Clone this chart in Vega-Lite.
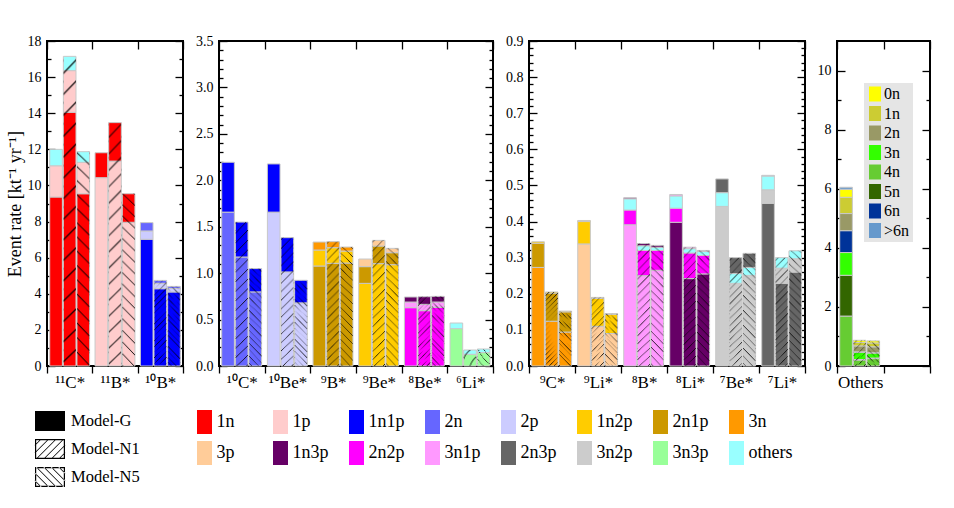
{
  "$schema": "https://vega.github.io/schema/vega-lite/v6.json",
  "padding": {"left": 5, "top": 33, "right": 5, "bottom": 5},
  "background": "white",
  "datasets": {
    "rates": [
      {"p": 1, "nuc": "¹¹C*", "model": "G", "ch": "1n", "value": 9.36},
      {"p": 1, "nuc": "¹¹C*", "model": "G", "ch": "1p", "value": 1.73},
      {"p": 1, "nuc": "¹¹C*", "model": "G", "ch": "others", "value": 0.91},
      {"p": 1, "nuc": "¹¹C*", "model": "N1", "ch": "1n", "value": 14.05},
      {"p": 1, "nuc": "¹¹C*", "model": "N1", "ch": "1p", "value": 2.31},
      {"p": 1, "nuc": "¹¹C*", "model": "N1", "ch": "others", "value": 0.79},
      {"p": 1, "nuc": "¹¹C*", "model": "N5", "ch": "1n", "value": 9.54},
      {"p": 1, "nuc": "¹¹C*", "model": "N5", "ch": "1p", "value": 1.74},
      {"p": 1, "nuc": "¹¹C*", "model": "N5", "ch": "others", "value": 0.59},
      {"p": 1, "nuc": "¹¹B*", "model": "G", "ch": "1p", "value": 10.43},
      {"p": 1, "nuc": "¹¹B*", "model": "G", "ch": "1n", "value": 1.38},
      {"p": 1, "nuc": "¹¹B*", "model": "N1", "ch": "1p", "value": 11.35},
      {"p": 1, "nuc": "¹¹B*", "model": "N1", "ch": "1n", "value": 2.13},
      {"p": 1, "nuc": "¹¹B*", "model": "N5", "ch": "1p", "value": 7.96},
      {"p": 1, "nuc": "¹¹B*", "model": "N5", "ch": "1n", "value": 1.58},
      {"p": 1, "nuc": "¹⁰B*", "model": "G", "ch": "1n1p", "value": 7.02},
      {"p": 1, "nuc": "¹⁰B*", "model": "G", "ch": "2p", "value": 0.46},
      {"p": 1, "nuc": "¹⁰B*", "model": "G", "ch": "2n", "value": 0.46},
      {"p": 1, "nuc": "¹⁰B*", "model": "N1", "ch": "1n1p", "value": 4.28},
      {"p": 1, "nuc": "¹⁰B*", "model": "N1", "ch": "2p", "value": 0.3},
      {"p": 1, "nuc": "¹⁰B*", "model": "N1", "ch": "2n", "value": 0.16},
      {"p": 1, "nuc": "¹⁰B*", "model": "N5", "ch": "1n1p", "value": 4.1},
      {"p": 1, "nuc": "¹⁰B*", "model": "N5", "ch": "2p", "value": 0.2},
      {"p": 1, "nuc": "¹⁰B*", "model": "N5", "ch": "2n", "value": 0.11},

      {"p": 2, "nuc": "¹⁰C*", "model": "G", "ch": "2n", "value": 1.657},
      {"p": 2, "nuc": "¹⁰C*", "model": "G", "ch": "1n1p", "value": 0.537},
      {"p": 2, "nuc": "¹⁰C*", "model": "N1", "ch": "2n", "value": 1.174},
      {"p": 2, "nuc": "¹⁰C*", "model": "N1", "ch": "1n1p", "value": 0.376},
      {"p": 2, "nuc": "¹⁰C*", "model": "N5", "ch": "2n", "value": 0.798},
      {"p": 2, "nuc": "¹⁰C*", "model": "N5", "ch": "1n1p", "value": 0.251},
      {"p": 2, "nuc": "¹⁰Be*", "model": "G", "ch": "2p", "value": 1.657},
      {"p": 2, "nuc": "¹⁰Be*", "model": "G", "ch": "1n1p", "value": 0.519},
      {"p": 2, "nuc": "¹⁰Be*", "model": "N1", "ch": "2p", "value": 1.013},
      {"p": 2, "nuc": "¹⁰Be*", "model": "N1", "ch": "1n1p", "value": 0.369},
      {"p": 2, "nuc": "¹⁰Be*", "model": "N5", "ch": "2p", "value": 0.68},
      {"p": 2, "nuc": "¹⁰Be*", "model": "N5", "ch": "1n1p", "value": 0.243},
      {"p": 2, "nuc": "⁹B*", "model": "G", "ch": "2n1p", "value": 1.077},
      {"p": 2, "nuc": "⁹B*", "model": "G", "ch": "1n2p", "value": 0.172},
      {"p": 2, "nuc": "⁹B*", "model": "G", "ch": "3n", "value": 0.086},
      {"p": 2, "nuc": "⁹B*", "model": "N1", "ch": "2n1p", "value": 1.106},
      {"p": 2, "nuc": "⁹B*", "model": "N1", "ch": "1n2p", "value": 0.168},
      {"p": 2, "nuc": "⁹B*", "model": "N1", "ch": "3n", "value": 0.065},
      {"p": 2, "nuc": "⁹B*", "model": "N5", "ch": "2n1p", "value": 1.109},
      {"p": 2, "nuc": "⁹B*", "model": "N5", "ch": "1n2p", "value": 0.129},
      {"p": 2, "nuc": "⁹B*", "model": "N5", "ch": "3n", "value": 0.043},
      {"p": 2, "nuc": "⁹Be*", "model": "G", "ch": "1n2p", "value": 0.89},
      {"p": 2, "nuc": "⁹Be*", "model": "G", "ch": "2n1p", "value": 0.18},
      {"p": 2, "nuc": "⁹Be*", "model": "G", "ch": "3p", "value": 0.082},
      {"p": 2, "nuc": "⁹Be*", "model": "N1", "ch": "1n2p", "value": 1.102},
      {"p": 2, "nuc": "⁹Be*", "model": "N1", "ch": "2n1p", "value": 0.19},
      {"p": 2, "nuc": "⁹Be*", "model": "N1", "ch": "3p", "value": 0.061},
      {"p": 2, "nuc": "⁹Be*", "model": "N5", "ch": "1n2p", "value": 1.091},
      {"p": 2, "nuc": "⁹Be*", "model": "N5", "ch": "2n1p", "value": 0.129},
      {"p": 2, "nuc": "⁹Be*", "model": "N5", "ch": "3p", "value": 0.047},
      {"p": 2, "nuc": "⁸Be*", "model": "G", "ch": "2n2p", "value": 0.628},
      {"p": 2, "nuc": "⁸Be*", "model": "G", "ch": "3n1p", "value": 0.061},
      {"p": 2, "nuc": "⁸Be*", "model": "G", "ch": "1n3p", "value": 0.054},
      {"p": 2, "nuc": "⁸Be*", "model": "N1", "ch": "2n2p", "value": 0.596},
      {"p": 2, "nuc": "⁸Be*", "model": "N1", "ch": "3n1p", "value": 0.068},
      {"p": 2, "nuc": "⁸Be*", "model": "N1", "ch": "1n3p", "value": 0.082},
      {"p": 2, "nuc": "⁸Be*", "model": "N5", "ch": "2n2p", "value": 0.632},
      {"p": 2, "nuc": "⁸Be*", "model": "N5", "ch": "3n1p", "value": 0.057},
      {"p": 2, "nuc": "⁸Be*", "model": "N5", "ch": "1n3p", "value": 0.061},
      {"p": 2, "nuc": "⁶Li*", "model": "G", "ch": "3n3p", "value": 0.402},
      {"p": 2, "nuc": "⁶Li*", "model": "G", "ch": "others", "value": 0.061},
      {"p": 2, "nuc": "⁶Li*", "model": "N1", "ch": "3n3p", "value": 0.126},
      {"p": 2, "nuc": "⁶Li*", "model": "N1", "ch": "others", "value": 0.046},
      {"p": 2, "nuc": "⁶Li*", "model": "N5", "ch": "3n3p", "value": 0.144},
      {"p": 2, "nuc": "⁶Li*", "model": "N5", "ch": "others", "value": 0.039},

      {"p": 3, "nuc": "⁹C*", "model": "G", "ch": "3n", "value": 0.273},
      {"p": 3, "nuc": "⁹C*", "model": "G", "ch": "2n1p", "value": 0.067},
      {"p": 3, "nuc": "⁹C*", "model": "G", "ch": "1n2p", "value": 0.004},
      {"p": 3, "nuc": "⁹C*", "model": "N1", "ch": "3n", "value": 0.124},
      {"p": 3, "nuc": "⁹C*", "model": "N1", "ch": "2n1p", "value": 0.078},
      {"p": 3, "nuc": "⁹C*", "model": "N1", "ch": "1n2p", "value": 0.003},
      {"p": 3, "nuc": "⁹C*", "model": "N5", "ch": "3n", "value": 0.094},
      {"p": 3, "nuc": "⁹C*", "model": "N5", "ch": "2n1p", "value": 0.056},
      {"p": 3, "nuc": "⁹C*", "model": "N5", "ch": "1n2p", "value": 0.002},
      {"p": 3, "nuc": "⁹Li*", "model": "G", "ch": "3p", "value": 0.338},
      {"p": 3, "nuc": "⁹Li*", "model": "G", "ch": "1n2p", "value": 0.062},
      {"p": 3, "nuc": "⁹Li*", "model": "G", "ch": "2n1p", "value": 0.003},
      {"p": 3, "nuc": "⁹Li*", "model": "N1", "ch": "3p", "value": 0.11},
      {"p": 3, "nuc": "⁹Li*", "model": "N1", "ch": "1n2p", "value": 0.077},
      {"p": 3, "nuc": "⁹Li*", "model": "N1", "ch": "2n1p", "value": 0.003},
      {"p": 3, "nuc": "⁹Li*", "model": "N5", "ch": "3p", "value": 0.09},
      {"p": 3, "nuc": "⁹Li*", "model": "N5", "ch": "1n2p", "value": 0.053},
      {"p": 3, "nuc": "⁹Li*", "model": "N5", "ch": "2n1p", "value": 0.002},
      {"p": 3, "nuc": "⁸B*", "model": "G", "ch": "3n1p", "value": 0.391},
      {"p": 3, "nuc": "⁸B*", "model": "G", "ch": "2n2p", "value": 0.041},
      {"p": 3, "nuc": "⁸B*", "model": "G", "ch": "others", "value": 0.031},
      {"p": 3, "nuc": "⁸B*", "model": "G", "ch": "1n3p", "value": 0.003},
      {"p": 3, "nuc": "⁸B*", "model": "N1", "ch": "3n1p", "value": 0.25},
      {"p": 3, "nuc": "⁸B*", "model": "N1", "ch": "2n2p", "value": 0.07},
      {"p": 3, "nuc": "⁸B*", "model": "N1", "ch": "others", "value": 0.013},
      {"p": 3, "nuc": "⁸B*", "model": "N1", "ch": "1n3p", "value": 0.006},
      {"p": 3, "nuc": "⁸B*", "model": "N5", "ch": "3n1p", "value": 0.265},
      {"p": 3, "nuc": "⁸B*", "model": "N5", "ch": "2n2p", "value": 0.055},
      {"p": 3, "nuc": "⁸B*", "model": "N5", "ch": "others", "value": 0.009},
      {"p": 3, "nuc": "⁸B*", "model": "N5", "ch": "1n3p", "value": 0.005},
      {"p": 3, "nuc": "⁸Li*", "model": "G", "ch": "1n3p", "value": 0.398},
      {"p": 3, "nuc": "⁸Li*", "model": "G", "ch": "2n2p", "value": 0.039},
      {"p": 3, "nuc": "⁸Li*", "model": "G", "ch": "others", "value": 0.034},
      {"p": 3, "nuc": "⁸Li*", "model": "G", "ch": "3n1p", "value": 0.004},
      {"p": 3, "nuc": "⁸Li*", "model": "N1", "ch": "1n3p", "value": 0.242},
      {"p": 3, "nuc": "⁸Li*", "model": "N1", "ch": "2n2p", "value": 0.071},
      {"p": 3, "nuc": "⁸Li*", "model": "N1", "ch": "others", "value": 0.012},
      {"p": 3, "nuc": "⁸Li*", "model": "N1", "ch": "3n1p", "value": 0.004},
      {"p": 3, "nuc": "⁸Li*", "model": "N5", "ch": "1n3p", "value": 0.255},
      {"p": 3, "nuc": "⁸Li*", "model": "N5", "ch": "2n2p", "value": 0.051},
      {"p": 3, "nuc": "⁸Li*", "model": "N5", "ch": "others", "value": 0.011},
      {"p": 3, "nuc": "⁸Li*", "model": "N5", "ch": "3n1p", "value": 0.003},
      {"p": 3, "nuc": "⁷Be*", "model": "G", "ch": "3n2p", "value": 0.442},
      {"p": 3, "nuc": "⁷Be*", "model": "G", "ch": "others", "value": 0.038},
      {"p": 3, "nuc": "⁷Be*", "model": "G", "ch": "2n3p", "value": 0.038},
      {"p": 3, "nuc": "⁷Be*", "model": "N1", "ch": "3n2p", "value": 0.229},
      {"p": 3, "nuc": "⁷Be*", "model": "N1", "ch": "others", "value": 0.027},
      {"p": 3, "nuc": "⁷Be*", "model": "N1", "ch": "2n3p", "value": 0.044},
      {"p": 3, "nuc": "⁷Be*", "model": "N5", "ch": "3n2p", "value": 0.251},
      {"p": 3, "nuc": "⁷Be*", "model": "N5", "ch": "others", "value": 0.022},
      {"p": 3, "nuc": "⁷Be*", "model": "N5", "ch": "2n3p", "value": 0.039},
      {"p": 3, "nuc": "⁷Li*", "model": "G", "ch": "2n3p", "value": 0.45},
      {"p": 3, "nuc": "⁷Li*", "model": "G", "ch": "3n2p", "value": 0.038},
      {"p": 3, "nuc": "⁷Li*", "model": "G", "ch": "others", "value": 0.038},
      {"p": 3, "nuc": "⁷Li*", "model": "G", "ch": "2p", "value": 0.002},
      {"p": 3, "nuc": "⁷Li*", "model": "N1", "ch": "2n3p", "value": 0.229},
      {"p": 3, "nuc": "⁷Li*", "model": "N1", "ch": "3n2p", "value": 0.042},
      {"p": 3, "nuc": "⁷Li*", "model": "N1", "ch": "others", "value": 0.029},
      {"p": 3, "nuc": "⁷Li*", "model": "N5", "ch": "2n3p", "value": 0.26},
      {"p": 3, "nuc": "⁷Li*", "model": "N5", "ch": "3n2p", "value": 0.037},
      {"p": 3, "nuc": "⁷Li*", "model": "N5", "ch": "others", "value": 0.022},

      {"p": 4, "nuc": "Others", "model": "G", "ch": "4n", "value": 1.69},
      {"p": 4, "nuc": "Others", "model": "G", "ch": "5n", "value": 1.38},
      {"p": 4, "nuc": "Others", "model": "G", "ch": "3n", "value": 0.77},
      {"p": 4, "nuc": "Others", "model": "G", "ch": "6n", "value": 0.74},
      {"p": 4, "nuc": "Others", "model": "G", "ch": "2n", "value": 0.58},
      {"p": 4, "nuc": "Others", "model": "G", "ch": "1n", "value": 0.55},
      {"p": 4, "nuc": "Others", "model": "G", "ch": "0n", "value": 0.27},
      {"p": 4, "nuc": "Others", "model": "G", "ch": ">6n", "value": 0.07},
      {"p": 4, "nuc": "Others", "model": "N1", "ch": "4n", "value": 0.2},
      {"p": 4, "nuc": "Others", "model": "N1", "ch": "5n", "value": 0.02},
      {"p": 4, "nuc": "Others", "model": "N1", "ch": "3n", "value": 0.25},
      {"p": 4, "nuc": "Others", "model": "N1", "ch": "6n", "value": 0.01},
      {"p": 4, "nuc": "Others", "model": "N1", "ch": "2n", "value": 0.2},
      {"p": 4, "nuc": "Others", "model": "N1", "ch": "1n", "value": 0.12},
      {"p": 4, "nuc": "Others", "model": "N1", "ch": "0n", "value": 0.07},
      {"p": 4, "nuc": "Others", "model": "N5", "ch": "4n", "value": 0.25},
      {"p": 4, "nuc": "Others", "model": "N5", "ch": "5n", "value": 0.02},
      {"p": 4, "nuc": "Others", "model": "N5", "ch": "3n", "value": 0.17},
      {"p": 4, "nuc": "Others", "model": "N5", "ch": "6n", "value": 0.01},
      {"p": 4, "nuc": "Others", "model": "N5", "ch": "2n", "value": 0.2},
      {"p": 4, "nuc": "Others", "model": "N5", "ch": "1n", "value": 0.13},
      {"p": 4, "nuc": "Others", "model": "N5", "ch": "0n", "value": 0.07}
    ]
  },
  "data": {"name": "rates"},
  "spacing": 9,
  "hconcat": [
    {
      "width": 136,
      "height": 325,
      "transform": [{"window": [{"op": "row_number", "as": "k"}]}, {"filter": "datum.p == 1"}],
      "layer": [
        {
          "mark": {"type": "bar", "stroke": "#c8c8c8", "strokeWidth": 1},
          "encoding": {
            "x": {"field": "nuc", "type": "nominal", "sort": null, "scale": {"domain": ["¹¹C*", "¹¹B*", "¹⁰B*"], "paddingInner": 0, "paddingOuter": 0}, "axis": {"orient": "bottom", "title": null, "tickBand": "extent", "tickSize": 7, "labelAngle": 0, "labelFontSize": 17, "labelPadding": 1}},
            "xOffset": {"field": "model", "scale": {"domain": ["G", "N1", "N5"], "paddingInner": 0.072, "paddingOuter": 0.2}},
            "y": {"field": "value", "type": "quantitative", "scale": {"domain": [0, 18], "nice": false}, "axis": {"orient": "left", "title": "Event rate [kt⁻¹ yr⁻¹]", "titlePadding": 3, "values": [0, 2, 4, 6, 8, 10, 12, 14, 16, 18], "tickSize": -8, "labelPadding": 14}},
            "fill": {
              "field": "ch", "type": "nominal",
              "scale": {
                "domain": ["1n", "1p", "1n1p", "2n", "2p", "1n2p", "2n1p", "3n", "3p", "1n3p", "2n2p", "3n1p", "2n3p", "3n2p", "3n3p", "others"],
                "range": ["#ff0000", "#ffcccc", "#0000ff", "#6666ff", "#ccccff", "#ffcc00", "#cc9900", "#ff9900", "#ffcc99", "#660066", "#ff00ff", "#ff99ff", "#666666", "#cccccc", "#99ff99", "#99ffff"]
              },
              "legend": {"orient": "none", "legendX": 145.5, "legendY": 369, "direction": "horizontal", "columns": 8, "gridAlign": "all", "columnPadding": 8, "rowPadding": 7, "symbolType": "M-0.625,-1H0.625V1H-0.625Z", "symbolSize": 576, "symbolStrokeWidth": 0, "symbolOpacity": 1, "labelFontSize": 18, "labelOffset": 0, "title": null, "padding": 0}
            },
            "order": {"field": "k", "type": "quantitative"}
          }
        },
        {
          "transform": [{"filter": "datum.model == 'N1'"}],
          "mark": {"type": "bar", "fill": {"gradient": "radial", "x1": -9, "y1": -9, "r1": 0, "x2": -9, "y2": -9, "r2": 14.1421, "stops": [
            {"offset": 0.9, "color": "rgba(0,0,0,0)"}, {"offset": 0.9003, "color": "rgba(0,0,0,0.9)"}, {"offset": 0.9006, "color": "rgba(0,0,0,0)"},
            {"offset": 0.90333, "color": "rgba(0,0,0,0)"}, {"offset": 0.90363, "color": "rgba(0,0,0,0.9)"}, {"offset": 0.90393, "color": "rgba(0,0,0,0)"},
            {"offset": 0.90667, "color": "rgba(0,0,0,0)"}, {"offset": 0.90697, "color": "rgba(0,0,0,0.9)"}, {"offset": 0.90727, "color": "rgba(0,0,0,0)"},
            {"offset": 0.91, "color": "rgba(0,0,0,0)"}, {"offset": 0.9103, "color": "rgba(0,0,0,0.9)"}, {"offset": 0.9106, "color": "rgba(0,0,0,0)"},
            {"offset": 0.91333, "color": "rgba(0,0,0,0)"}, {"offset": 0.91363, "color": "rgba(0,0,0,0.9)"}, {"offset": 0.91393, "color": "rgba(0,0,0,0)"},
            {"offset": 0.91667, "color": "rgba(0,0,0,0)"}, {"offset": 0.91697, "color": "rgba(0,0,0,0.9)"}, {"offset": 0.91727, "color": "rgba(0,0,0,0)"},
            {"offset": 0.92, "color": "rgba(0,0,0,0)"}, {"offset": 0.9203, "color": "rgba(0,0,0,0.9)"}, {"offset": 0.9206, "color": "rgba(0,0,0,0)"},
            {"offset": 0.92333, "color": "rgba(0,0,0,0)"}, {"offset": 0.92363, "color": "rgba(0,0,0,0.9)"}, {"offset": 0.92393, "color": "rgba(0,0,0,0)"},
            {"offset": 0.92667, "color": "rgba(0,0,0,0)"}, {"offset": 0.92697, "color": "rgba(0,0,0,0.9)"}, {"offset": 0.92727, "color": "rgba(0,0,0,0)"},
            {"offset": 0.93, "color": "rgba(0,0,0,0)"}, {"offset": 0.9303, "color": "rgba(0,0,0,0.9)"}, {"offset": 0.9306, "color": "rgba(0,0,0,0)"},
            {"offset": 0.93333, "color": "rgba(0,0,0,0)"}, {"offset": 0.93363, "color": "rgba(0,0,0,0.9)"}, {"offset": 0.93393, "color": "rgba(0,0,0,0)"},
            {"offset": 0.93667, "color": "rgba(0,0,0,0)"}, {"offset": 0.93697, "color": "rgba(0,0,0,0.9)"}, {"offset": 0.93727, "color": "rgba(0,0,0,0)"},
            {"offset": 0.94, "color": "rgba(0,0,0,0)"}, {"offset": 0.9403, "color": "rgba(0,0,0,0.9)"}, {"offset": 0.9406, "color": "rgba(0,0,0,0)"},
            {"offset": 0.94333, "color": "rgba(0,0,0,0)"}, {"offset": 0.94363, "color": "rgba(0,0,0,0.9)"}, {"offset": 0.94393, "color": "rgba(0,0,0,0)"},
            {"offset": 0.94667, "color": "rgba(0,0,0,0)"}, {"offset": 0.94697, "color": "rgba(0,0,0,0.9)"}, {"offset": 0.94727, "color": "rgba(0,0,0,0)"},
            {"offset": 0.95, "color": "rgba(0,0,0,0)"}, {"offset": 0.9503, "color": "rgba(0,0,0,0.9)"}, {"offset": 0.9506, "color": "rgba(0,0,0,0)"},
            {"offset": 0.95333, "color": "rgba(0,0,0,0)"}, {"offset": 0.95363, "color": "rgba(0,0,0,0.9)"}, {"offset": 0.95393, "color": "rgba(0,0,0,0)"},
            {"offset": 0.95667, "color": "rgba(0,0,0,0)"}, {"offset": 0.95697, "color": "rgba(0,0,0,0.9)"}, {"offset": 0.95727, "color": "rgba(0,0,0,0)"},
            {"offset": 0.96, "color": "rgba(0,0,0,0)"}, {"offset": 0.9603, "color": "rgba(0,0,0,0.9)"}, {"offset": 0.9606, "color": "rgba(0,0,0,0)"},
            {"offset": 0.96333, "color": "rgba(0,0,0,0)"}, {"offset": 0.96363, "color": "rgba(0,0,0,0.9)"}, {"offset": 0.96393, "color": "rgba(0,0,0,0)"},
            {"offset": 0.96667, "color": "rgba(0,0,0,0)"}, {"offset": 0.96697, "color": "rgba(0,0,0,0.9)"}, {"offset": 0.96727, "color": "rgba(0,0,0,0)"},
            {"offset": 0.97, "color": "rgba(0,0,0,0)"}, {"offset": 0.9703, "color": "rgba(0,0,0,0.9)"}, {"offset": 0.9706, "color": "rgba(0,0,0,0)"},
            {"offset": 0.97333, "color": "rgba(0,0,0,0)"}, {"offset": 0.97363, "color": "rgba(0,0,0,0.9)"}, {"offset": 0.97393, "color": "rgba(0,0,0,0)"},
            {"offset": 0.97667, "color": "rgba(0,0,0,0)"}, {"offset": 0.97697, "color": "rgba(0,0,0,0.9)"}, {"offset": 0.97727, "color": "rgba(0,0,0,0)"},
            {"offset": 0.98, "color": "rgba(0,0,0,0)"}, {"offset": 0.9803, "color": "rgba(0,0,0,0.9)"}, {"offset": 0.9806, "color": "rgba(0,0,0,0)"},
            {"offset": 0.98333, "color": "rgba(0,0,0,0)"}, {"offset": 0.98363, "color": "rgba(0,0,0,0.9)"}, {"offset": 0.98393, "color": "rgba(0,0,0,0)"},
            {"offset": 0.98667, "color": "rgba(0,0,0,0)"}, {"offset": 0.98697, "color": "rgba(0,0,0,0.9)"}, {"offset": 0.98727, "color": "rgba(0,0,0,0)"},
            {"offset": 0.99, "color": "rgba(0,0,0,0)"}, {"offset": 0.9903, "color": "rgba(0,0,0,0.9)"}, {"offset": 0.9906, "color": "rgba(0,0,0,0)"},
            {"offset": 0.99333, "color": "rgba(0,0,0,0)"}, {"offset": 0.99363, "color": "rgba(0,0,0,0.9)"}, {"offset": 0.99393, "color": "rgba(0,0,0,0)"},
            {"offset": 0.99667, "color": "rgba(0,0,0,0)"}, {"offset": 0.99697, "color": "rgba(0,0,0,0.9)"}, {"offset": 0.99727, "color": "rgba(0,0,0,0)"}
          ]}},
          "encoding": {
            "x": {"field": "nuc", "type": "nominal", "sort": null, "axis": {"orient": "top", "title": null, "tickBand": "extent", "tickSize": -8, "labels": false}},
            "xOffset": {"field": "model"},
            "y": {"aggregate": "sum", "field": "value", "type": "quantitative", "axis": {"orient": "right", "title": null, "values": [0, 2, 4, 6, 8, 10, 12, 14, 16, 18], "tickSize": -8, "labels": false}}
          }
        },
        {
          "transform": [{"filter": "datum.model == 'N5'"}],
          "mark": {"type": "bar", "fill": {"gradient": "radial", "x1": -9, "y1": 10, "r1": 0, "x2": -9, "y2": 10, "r2": 14.1421, "stops": [
            {"offset": 0.9, "color": "rgba(0,0,0,0)"}, {"offset": 0.9003, "color": "rgba(0,0,0,0.9)"}, {"offset": 0.9006, "color": "rgba(0,0,0,0)"},
            {"offset": 0.90333, "color": "rgba(0,0,0,0)"}, {"offset": 0.90363, "color": "rgba(0,0,0,0.9)"}, {"offset": 0.90393, "color": "rgba(0,0,0,0)"},
            {"offset": 0.90667, "color": "rgba(0,0,0,0)"}, {"offset": 0.90697, "color": "rgba(0,0,0,0.9)"}, {"offset": 0.90727, "color": "rgba(0,0,0,0)"},
            {"offset": 0.91, "color": "rgba(0,0,0,0)"}, {"offset": 0.9103, "color": "rgba(0,0,0,0.9)"}, {"offset": 0.9106, "color": "rgba(0,0,0,0)"},
            {"offset": 0.91333, "color": "rgba(0,0,0,0)"}, {"offset": 0.91363, "color": "rgba(0,0,0,0.9)"}, {"offset": 0.91393, "color": "rgba(0,0,0,0)"},
            {"offset": 0.91667, "color": "rgba(0,0,0,0)"}, {"offset": 0.91697, "color": "rgba(0,0,0,0.9)"}, {"offset": 0.91727, "color": "rgba(0,0,0,0)"},
            {"offset": 0.92, "color": "rgba(0,0,0,0)"}, {"offset": 0.9203, "color": "rgba(0,0,0,0.9)"}, {"offset": 0.9206, "color": "rgba(0,0,0,0)"},
            {"offset": 0.92333, "color": "rgba(0,0,0,0)"}, {"offset": 0.92363, "color": "rgba(0,0,0,0.9)"}, {"offset": 0.92393, "color": "rgba(0,0,0,0)"},
            {"offset": 0.92667, "color": "rgba(0,0,0,0)"}, {"offset": 0.92697, "color": "rgba(0,0,0,0.9)"}, {"offset": 0.92727, "color": "rgba(0,0,0,0)"},
            {"offset": 0.93, "color": "rgba(0,0,0,0)"}, {"offset": 0.9303, "color": "rgba(0,0,0,0.9)"}, {"offset": 0.9306, "color": "rgba(0,0,0,0)"},
            {"offset": 0.93333, "color": "rgba(0,0,0,0)"}, {"offset": 0.93363, "color": "rgba(0,0,0,0.9)"}, {"offset": 0.93393, "color": "rgba(0,0,0,0)"},
            {"offset": 0.93667, "color": "rgba(0,0,0,0)"}, {"offset": 0.93697, "color": "rgba(0,0,0,0.9)"}, {"offset": 0.93727, "color": "rgba(0,0,0,0)"},
            {"offset": 0.94, "color": "rgba(0,0,0,0)"}, {"offset": 0.9403, "color": "rgba(0,0,0,0.9)"}, {"offset": 0.9406, "color": "rgba(0,0,0,0)"},
            {"offset": 0.94333, "color": "rgba(0,0,0,0)"}, {"offset": 0.94363, "color": "rgba(0,0,0,0.9)"}, {"offset": 0.94393, "color": "rgba(0,0,0,0)"},
            {"offset": 0.94667, "color": "rgba(0,0,0,0)"}, {"offset": 0.94697, "color": "rgba(0,0,0,0.9)"}, {"offset": 0.94727, "color": "rgba(0,0,0,0)"},
            {"offset": 0.95, "color": "rgba(0,0,0,0)"}, {"offset": 0.9503, "color": "rgba(0,0,0,0.9)"}, {"offset": 0.9506, "color": "rgba(0,0,0,0)"},
            {"offset": 0.95333, "color": "rgba(0,0,0,0)"}, {"offset": 0.95363, "color": "rgba(0,0,0,0.9)"}, {"offset": 0.95393, "color": "rgba(0,0,0,0)"},
            {"offset": 0.95667, "color": "rgba(0,0,0,0)"}, {"offset": 0.95697, "color": "rgba(0,0,0,0.9)"}, {"offset": 0.95727, "color": "rgba(0,0,0,0)"},
            {"offset": 0.96, "color": "rgba(0,0,0,0)"}, {"offset": 0.9603, "color": "rgba(0,0,0,0.9)"}, {"offset": 0.9606, "color": "rgba(0,0,0,0)"},
            {"offset": 0.96333, "color": "rgba(0,0,0,0)"}, {"offset": 0.96363, "color": "rgba(0,0,0,0.9)"}, {"offset": 0.96393, "color": "rgba(0,0,0,0)"},
            {"offset": 0.96667, "color": "rgba(0,0,0,0)"}, {"offset": 0.96697, "color": "rgba(0,0,0,0.9)"}, {"offset": 0.96727, "color": "rgba(0,0,0,0)"},
            {"offset": 0.97, "color": "rgba(0,0,0,0)"}, {"offset": 0.9703, "color": "rgba(0,0,0,0.9)"}, {"offset": 0.9706, "color": "rgba(0,0,0,0)"},
            {"offset": 0.97333, "color": "rgba(0,0,0,0)"}, {"offset": 0.97363, "color": "rgba(0,0,0,0.9)"}, {"offset": 0.97393, "color": "rgba(0,0,0,0)"},
            {"offset": 0.97667, "color": "rgba(0,0,0,0)"}, {"offset": 0.97697, "color": "rgba(0,0,0,0.9)"}, {"offset": 0.97727, "color": "rgba(0,0,0,0)"},
            {"offset": 0.98, "color": "rgba(0,0,0,0)"}, {"offset": 0.9803, "color": "rgba(0,0,0,0.9)"}, {"offset": 0.9806, "color": "rgba(0,0,0,0)"},
            {"offset": 0.98333, "color": "rgba(0,0,0,0)"}, {"offset": 0.98363, "color": "rgba(0,0,0,0.9)"}, {"offset": 0.98393, "color": "rgba(0,0,0,0)"},
            {"offset": 0.98667, "color": "rgba(0,0,0,0)"}, {"offset": 0.98697, "color": "rgba(0,0,0,0.9)"}, {"offset": 0.98727, "color": "rgba(0,0,0,0)"},
            {"offset": 0.99, "color": "rgba(0,0,0,0)"}, {"offset": 0.9903, "color": "rgba(0,0,0,0.9)"}, {"offset": 0.9906, "color": "rgba(0,0,0,0)"},
            {"offset": 0.99333, "color": "rgba(0,0,0,0)"}, {"offset": 0.99363, "color": "rgba(0,0,0,0.9)"}, {"offset": 0.99393, "color": "rgba(0,0,0,0)"},
            {"offset": 0.99667, "color": "rgba(0,0,0,0)"}, {"offset": 0.99697, "color": "rgba(0,0,0,0.9)"}, {"offset": 0.99727, "color": "rgba(0,0,0,0)"}
          ]}},
          "encoding": {
            "x": {"field": "nuc", "type": "nominal", "sort": null, "axis": null},
            "xOffset": {"field": "model"},
            "y": {"aggregate": "sum", "field": "value", "type": "quantitative", "axis": {"orient": "left", "title": null, "values": [1, 3, 5, 7, 9, 11, 13, 15, 17], "tickSize": -4, "labels": false}}
          }
        },
        {
          "mark": {"type": "point", "filled": true, "opacity": 0, "fill": "#000000"},
          "encoding": {
            "x": {"field": "nuc", "type": "nominal", "sort": null, "axis": null},
            "xOffset": {"field": "model"},
            "y": {"aggregate": "sum", "field": "value", "type": "quantitative", "axis": {"orient": "right", "title": null, "values": [1, 3, 5, 7, 9, 11, 13, 15, 17], "tickSize": -4, "labels": false}},
            "shape": {
              "field": "model", "type": "nominal",
              "scale": {
                "domain": ["G", "N1", "N5"],
                "range": [
                  "M-1.25,-0.833H1.25V0.833H-1.25Z",
                  "M-1.25,-0.833H1.25V0.833H-1.25Z M-1.15,-0.734V0.734H1.15V-0.734Z M-1.294,-0.313L-0.773,-0.833L-0.685,-0.833L-1.206,-0.313Z M-1.294,0.313L-0.148,-0.833L-0.06,-0.833L-1.206,0.313Z M-1.19,0.833L0.478,-0.833L0.565,-0.833L-1.103,0.833Z M-0.565,0.833L1.103,-0.833L1.19,-0.833L-0.478,0.833Z M0.06,0.833L1.206,-0.313L1.294,-0.313L0.148,0.833Z M0.685,0.833L1.206,0.313L1.294,0.313L0.773,0.833Z",
                  "M-1.25,-0.833H1.25V0.833H-1.25Z M-1.15,-0.734V0.734H1.15V-0.734Z M1.294,-0.313L0.773,-0.833L0.685,-0.833L1.206,-0.313Z M1.294,0.313L0.148,-0.833L0.06,-0.833L1.206,0.313Z M1.19,0.833L-0.478,-0.833L-0.565,-0.833L1.103,0.833Z M0.565,0.833L-1.103,-0.833L-1.19,-0.833L0.478,0.833Z M-0.06,0.833L-1.206,-0.313L-1.294,-0.313L-0.148,0.833Z M-0.685,0.833L-1.206,0.313L-1.294,0.313L-0.773,0.833Z"
                ]
              },
              "legend": {"orient": "none", "legendX": -9, "legendY": 368, "direction": "vertical", "symbolSize": 576, "symbolFillColor": "#000000", "symbolStrokeWidth": 0, "symbolOpacity": 1, "rowPadding": 6, "labelFontSize": 16.5, "labelOffset": 9, "labelExpr": "'Model-' + datum.label", "title": null, "padding": 0}
            }
          }
        }
      ],
      "resolve": {"axis": {"x": "independent", "y": "independent"}}
    },
    {
      "width": 274,
      "height": 325,
      "transform": [{"window": [{"op": "row_number", "as": "k"}]}, {"filter": "datum.p == 2"}],
      "layer": [
        {
          "mark": {"type": "bar", "stroke": "#c8c8c8", "strokeWidth": 1},
          "encoding": {
            "x": {"field": "nuc", "type": "nominal", "sort": null, "scale": {"domain": ["¹⁰C*", "¹⁰Be*", "⁹B*", "⁹Be*", "⁸Be*", "⁶Li*"], "paddingInner": 0, "paddingOuter": 0}, "axis": {"orient": "bottom", "title": null, "tickBand": "extent", "tickSize": 7, "labelAngle": 0, "labelFontSize": 17, "labelPadding": 1}},
            "xOffset": {"field": "model", "scale": {"domain": ["G", "N1", "N5"], "paddingInner": 0.072, "paddingOuter": 0.2}},
            "y": {"field": "value", "type": "quantitative", "scale": {"domain": [0, 3.5], "nice": false}, "axis": {"orient": "left", "title": null, "values": [0, 0.5, 1, 1.5, 2, 2.5, 3, 3.5], "format": ".1f", "tickSize": -8, "labelPadding": 14}},
            "fill": {"field": "ch", "type": "nominal"},
            "order": {"field": "k", "type": "quantitative"}
          }
        },
        {
          "transform": [{"filter": "datum.model == 'N1'"}],
          "mark": {"type": "bar", "fill": {"gradient": "radial", "x1": -9, "y1": -9, "r1": 0, "x2": -9, "y2": -9, "r2": 14.1421, "stops": [
            {"offset": 0.9, "color": "rgba(0,0,0,0)"}, {"offset": 0.9003, "color": "rgba(0,0,0,0.9)"}, {"offset": 0.9006, "color": "rgba(0,0,0,0)"},
            {"offset": 0.90333, "color": "rgba(0,0,0,0)"}, {"offset": 0.90363, "color": "rgba(0,0,0,0.9)"}, {"offset": 0.90393, "color": "rgba(0,0,0,0)"},
            {"offset": 0.90667, "color": "rgba(0,0,0,0)"}, {"offset": 0.90697, "color": "rgba(0,0,0,0.9)"}, {"offset": 0.90727, "color": "rgba(0,0,0,0)"},
            {"offset": 0.91, "color": "rgba(0,0,0,0)"}, {"offset": 0.9103, "color": "rgba(0,0,0,0.9)"}, {"offset": 0.9106, "color": "rgba(0,0,0,0)"},
            {"offset": 0.91333, "color": "rgba(0,0,0,0)"}, {"offset": 0.91363, "color": "rgba(0,0,0,0.9)"}, {"offset": 0.91393, "color": "rgba(0,0,0,0)"},
            {"offset": 0.91667, "color": "rgba(0,0,0,0)"}, {"offset": 0.91697, "color": "rgba(0,0,0,0.9)"}, {"offset": 0.91727, "color": "rgba(0,0,0,0)"},
            {"offset": 0.92, "color": "rgba(0,0,0,0)"}, {"offset": 0.9203, "color": "rgba(0,0,0,0.9)"}, {"offset": 0.9206, "color": "rgba(0,0,0,0)"},
            {"offset": 0.92333, "color": "rgba(0,0,0,0)"}, {"offset": 0.92363, "color": "rgba(0,0,0,0.9)"}, {"offset": 0.92393, "color": "rgba(0,0,0,0)"},
            {"offset": 0.92667, "color": "rgba(0,0,0,0)"}, {"offset": 0.92697, "color": "rgba(0,0,0,0.9)"}, {"offset": 0.92727, "color": "rgba(0,0,0,0)"},
            {"offset": 0.93, "color": "rgba(0,0,0,0)"}, {"offset": 0.9303, "color": "rgba(0,0,0,0.9)"}, {"offset": 0.9306, "color": "rgba(0,0,0,0)"},
            {"offset": 0.93333, "color": "rgba(0,0,0,0)"}, {"offset": 0.93363, "color": "rgba(0,0,0,0.9)"}, {"offset": 0.93393, "color": "rgba(0,0,0,0)"},
            {"offset": 0.93667, "color": "rgba(0,0,0,0)"}, {"offset": 0.93697, "color": "rgba(0,0,0,0.9)"}, {"offset": 0.93727, "color": "rgba(0,0,0,0)"},
            {"offset": 0.94, "color": "rgba(0,0,0,0)"}, {"offset": 0.9403, "color": "rgba(0,0,0,0.9)"}, {"offset": 0.9406, "color": "rgba(0,0,0,0)"},
            {"offset": 0.94333, "color": "rgba(0,0,0,0)"}, {"offset": 0.94363, "color": "rgba(0,0,0,0.9)"}, {"offset": 0.94393, "color": "rgba(0,0,0,0)"},
            {"offset": 0.94667, "color": "rgba(0,0,0,0)"}, {"offset": 0.94697, "color": "rgba(0,0,0,0.9)"}, {"offset": 0.94727, "color": "rgba(0,0,0,0)"},
            {"offset": 0.95, "color": "rgba(0,0,0,0)"}, {"offset": 0.9503, "color": "rgba(0,0,0,0.9)"}, {"offset": 0.9506, "color": "rgba(0,0,0,0)"},
            {"offset": 0.95333, "color": "rgba(0,0,0,0)"}, {"offset": 0.95363, "color": "rgba(0,0,0,0.9)"}, {"offset": 0.95393, "color": "rgba(0,0,0,0)"},
            {"offset": 0.95667, "color": "rgba(0,0,0,0)"}, {"offset": 0.95697, "color": "rgba(0,0,0,0.9)"}, {"offset": 0.95727, "color": "rgba(0,0,0,0)"},
            {"offset": 0.96, "color": "rgba(0,0,0,0)"}, {"offset": 0.9603, "color": "rgba(0,0,0,0.9)"}, {"offset": 0.9606, "color": "rgba(0,0,0,0)"},
            {"offset": 0.96333, "color": "rgba(0,0,0,0)"}, {"offset": 0.96363, "color": "rgba(0,0,0,0.9)"}, {"offset": 0.96393, "color": "rgba(0,0,0,0)"},
            {"offset": 0.96667, "color": "rgba(0,0,0,0)"}, {"offset": 0.96697, "color": "rgba(0,0,0,0.9)"}, {"offset": 0.96727, "color": "rgba(0,0,0,0)"},
            {"offset": 0.97, "color": "rgba(0,0,0,0)"}, {"offset": 0.9703, "color": "rgba(0,0,0,0.9)"}, {"offset": 0.9706, "color": "rgba(0,0,0,0)"},
            {"offset": 0.97333, "color": "rgba(0,0,0,0)"}, {"offset": 0.97363, "color": "rgba(0,0,0,0.9)"}, {"offset": 0.97393, "color": "rgba(0,0,0,0)"},
            {"offset": 0.97667, "color": "rgba(0,0,0,0)"}, {"offset": 0.97697, "color": "rgba(0,0,0,0.9)"}, {"offset": 0.97727, "color": "rgba(0,0,0,0)"},
            {"offset": 0.98, "color": "rgba(0,0,0,0)"}, {"offset": 0.9803, "color": "rgba(0,0,0,0.9)"}, {"offset": 0.9806, "color": "rgba(0,0,0,0)"},
            {"offset": 0.98333, "color": "rgba(0,0,0,0)"}, {"offset": 0.98363, "color": "rgba(0,0,0,0.9)"}, {"offset": 0.98393, "color": "rgba(0,0,0,0)"},
            {"offset": 0.98667, "color": "rgba(0,0,0,0)"}, {"offset": 0.98697, "color": "rgba(0,0,0,0.9)"}, {"offset": 0.98727, "color": "rgba(0,0,0,0)"},
            {"offset": 0.99, "color": "rgba(0,0,0,0)"}, {"offset": 0.9903, "color": "rgba(0,0,0,0.9)"}, {"offset": 0.9906, "color": "rgba(0,0,0,0)"},
            {"offset": 0.99333, "color": "rgba(0,0,0,0)"}, {"offset": 0.99363, "color": "rgba(0,0,0,0.9)"}, {"offset": 0.99393, "color": "rgba(0,0,0,0)"},
            {"offset": 0.99667, "color": "rgba(0,0,0,0)"}, {"offset": 0.99697, "color": "rgba(0,0,0,0.9)"}, {"offset": 0.99727, "color": "rgba(0,0,0,0)"}
          ]}},
          "encoding": {
            "x": {"field": "nuc", "type": "nominal", "sort": null, "axis": {"orient": "top", "title": null, "tickBand": "extent", "tickSize": -8, "labels": false}},
            "xOffset": {"field": "model"},
            "y": {"aggregate": "sum", "field": "value", "type": "quantitative", "axis": {"orient": "right", "title": null, "values": [0, 0.5, 1, 1.5, 2, 2.5, 3, 3.5], "tickSize": -8, "labels": false}}
          }
        },
        {
          "transform": [{"filter": "datum.model == 'N5'"}],
          "mark": {"type": "bar", "fill": {"gradient": "radial", "x1": -9, "y1": 10, "r1": 0, "x2": -9, "y2": 10, "r2": 14.1421, "stops": [
            {"offset": 0.9, "color": "rgba(0,0,0,0)"}, {"offset": 0.9003, "color": "rgba(0,0,0,0.9)"}, {"offset": 0.9006, "color": "rgba(0,0,0,0)"},
            {"offset": 0.90333, "color": "rgba(0,0,0,0)"}, {"offset": 0.90363, "color": "rgba(0,0,0,0.9)"}, {"offset": 0.90393, "color": "rgba(0,0,0,0)"},
            {"offset": 0.90667, "color": "rgba(0,0,0,0)"}, {"offset": 0.90697, "color": "rgba(0,0,0,0.9)"}, {"offset": 0.90727, "color": "rgba(0,0,0,0)"},
            {"offset": 0.91, "color": "rgba(0,0,0,0)"}, {"offset": 0.9103, "color": "rgba(0,0,0,0.9)"}, {"offset": 0.9106, "color": "rgba(0,0,0,0)"},
            {"offset": 0.91333, "color": "rgba(0,0,0,0)"}, {"offset": 0.91363, "color": "rgba(0,0,0,0.9)"}, {"offset": 0.91393, "color": "rgba(0,0,0,0)"},
            {"offset": 0.91667, "color": "rgba(0,0,0,0)"}, {"offset": 0.91697, "color": "rgba(0,0,0,0.9)"}, {"offset": 0.91727, "color": "rgba(0,0,0,0)"},
            {"offset": 0.92, "color": "rgba(0,0,0,0)"}, {"offset": 0.9203, "color": "rgba(0,0,0,0.9)"}, {"offset": 0.9206, "color": "rgba(0,0,0,0)"},
            {"offset": 0.92333, "color": "rgba(0,0,0,0)"}, {"offset": 0.92363, "color": "rgba(0,0,0,0.9)"}, {"offset": 0.92393, "color": "rgba(0,0,0,0)"},
            {"offset": 0.92667, "color": "rgba(0,0,0,0)"}, {"offset": 0.92697, "color": "rgba(0,0,0,0.9)"}, {"offset": 0.92727, "color": "rgba(0,0,0,0)"},
            {"offset": 0.93, "color": "rgba(0,0,0,0)"}, {"offset": 0.9303, "color": "rgba(0,0,0,0.9)"}, {"offset": 0.9306, "color": "rgba(0,0,0,0)"},
            {"offset": 0.93333, "color": "rgba(0,0,0,0)"}, {"offset": 0.93363, "color": "rgba(0,0,0,0.9)"}, {"offset": 0.93393, "color": "rgba(0,0,0,0)"},
            {"offset": 0.93667, "color": "rgba(0,0,0,0)"}, {"offset": 0.93697, "color": "rgba(0,0,0,0.9)"}, {"offset": 0.93727, "color": "rgba(0,0,0,0)"},
            {"offset": 0.94, "color": "rgba(0,0,0,0)"}, {"offset": 0.9403, "color": "rgba(0,0,0,0.9)"}, {"offset": 0.9406, "color": "rgba(0,0,0,0)"},
            {"offset": 0.94333, "color": "rgba(0,0,0,0)"}, {"offset": 0.94363, "color": "rgba(0,0,0,0.9)"}, {"offset": 0.94393, "color": "rgba(0,0,0,0)"},
            {"offset": 0.94667, "color": "rgba(0,0,0,0)"}, {"offset": 0.94697, "color": "rgba(0,0,0,0.9)"}, {"offset": 0.94727, "color": "rgba(0,0,0,0)"},
            {"offset": 0.95, "color": "rgba(0,0,0,0)"}, {"offset": 0.9503, "color": "rgba(0,0,0,0.9)"}, {"offset": 0.9506, "color": "rgba(0,0,0,0)"},
            {"offset": 0.95333, "color": "rgba(0,0,0,0)"}, {"offset": 0.95363, "color": "rgba(0,0,0,0.9)"}, {"offset": 0.95393, "color": "rgba(0,0,0,0)"},
            {"offset": 0.95667, "color": "rgba(0,0,0,0)"}, {"offset": 0.95697, "color": "rgba(0,0,0,0.9)"}, {"offset": 0.95727, "color": "rgba(0,0,0,0)"},
            {"offset": 0.96, "color": "rgba(0,0,0,0)"}, {"offset": 0.9603, "color": "rgba(0,0,0,0.9)"}, {"offset": 0.9606, "color": "rgba(0,0,0,0)"},
            {"offset": 0.96333, "color": "rgba(0,0,0,0)"}, {"offset": 0.96363, "color": "rgba(0,0,0,0.9)"}, {"offset": 0.96393, "color": "rgba(0,0,0,0)"},
            {"offset": 0.96667, "color": "rgba(0,0,0,0)"}, {"offset": 0.96697, "color": "rgba(0,0,0,0.9)"}, {"offset": 0.96727, "color": "rgba(0,0,0,0)"},
            {"offset": 0.97, "color": "rgba(0,0,0,0)"}, {"offset": 0.9703, "color": "rgba(0,0,0,0.9)"}, {"offset": 0.9706, "color": "rgba(0,0,0,0)"},
            {"offset": 0.97333, "color": "rgba(0,0,0,0)"}, {"offset": 0.97363, "color": "rgba(0,0,0,0.9)"}, {"offset": 0.97393, "color": "rgba(0,0,0,0)"},
            {"offset": 0.97667, "color": "rgba(0,0,0,0)"}, {"offset": 0.97697, "color": "rgba(0,0,0,0.9)"}, {"offset": 0.97727, "color": "rgba(0,0,0,0)"},
            {"offset": 0.98, "color": "rgba(0,0,0,0)"}, {"offset": 0.9803, "color": "rgba(0,0,0,0.9)"}, {"offset": 0.9806, "color": "rgba(0,0,0,0)"},
            {"offset": 0.98333, "color": "rgba(0,0,0,0)"}, {"offset": 0.98363, "color": "rgba(0,0,0,0.9)"}, {"offset": 0.98393, "color": "rgba(0,0,0,0)"},
            {"offset": 0.98667, "color": "rgba(0,0,0,0)"}, {"offset": 0.98697, "color": "rgba(0,0,0,0.9)"}, {"offset": 0.98727, "color": "rgba(0,0,0,0)"},
            {"offset": 0.99, "color": "rgba(0,0,0,0)"}, {"offset": 0.9903, "color": "rgba(0,0,0,0.9)"}, {"offset": 0.9906, "color": "rgba(0,0,0,0)"},
            {"offset": 0.99333, "color": "rgba(0,0,0,0)"}, {"offset": 0.99363, "color": "rgba(0,0,0,0.9)"}, {"offset": 0.99393, "color": "rgba(0,0,0,0)"},
            {"offset": 0.99667, "color": "rgba(0,0,0,0)"}, {"offset": 0.99697, "color": "rgba(0,0,0,0.9)"}, {"offset": 0.99727, "color": "rgba(0,0,0,0)"}
          ]}},
          "encoding": {
            "x": {"field": "nuc", "type": "nominal", "sort": null, "axis": null},
            "xOffset": {"field": "model"},
            "y": {"aggregate": "sum", "field": "value", "type": "quantitative", "axis": {"orient": "left", "title": null, "values": [0.1, 0.2, 0.3, 0.4, 0.6, 0.7, 0.8, 0.9, 1.1, 1.2, 1.3, 1.4, 1.6, 1.7, 1.8, 1.9, 2.1, 2.2, 2.3, 2.4, 2.6, 2.7, 2.8, 2.9, 3.1, 3.2, 3.3, 3.4], "tickSize": -4, "labels": false}}
          }
        },
        {
          "mark": {"type": "bar", "opacity": 0},
          "encoding": {
            "x": {"field": "nuc", "type": "nominal", "sort": null, "axis": null},
            "xOffset": {"field": "model"},
            "y": {"aggregate": "sum", "field": "value", "type": "quantitative", "axis": {"orient": "right", "title": null, "values": [0.1, 0.2, 0.3, 0.4, 0.6, 0.7, 0.8, 0.9, 1.1, 1.2, 1.3, 1.4, 1.6, 1.7, 1.8, 1.9, 2.1, 2.2, 2.3, 2.4, 2.6, 2.7, 2.8, 2.9, 3.1, 3.2, 3.3, 3.4], "tickSize": -4, "labels": false}}
          }
        }
      ],
      "resolve": {"axis": {"x": "independent", "y": "independent"}}
    },
    {
      "width": 276,
      "height": 325,
      "transform": [{"window": [{"op": "row_number", "as": "k"}]}, {"filter": "datum.p == 3"}],
      "layer": [
        {
          "mark": {"type": "bar", "stroke": "#c8c8c8", "strokeWidth": 1},
          "encoding": {
            "x": {"field": "nuc", "type": "nominal", "sort": null, "scale": {"domain": ["⁹C*", "⁹Li*", "⁸B*", "⁸Li*", "⁷Be*", "⁷Li*"], "paddingInner": 0, "paddingOuter": 0}, "axis": {"orient": "bottom", "title": null, "tickBand": "extent", "tickSize": 7, "labelAngle": 0, "labelFontSize": 17, "labelPadding": 1}},
            "xOffset": {"field": "model", "scale": {"domain": ["G", "N1", "N5"], "paddingInner": 0.072, "paddingOuter": 0.2}},
            "y": {"field": "value", "type": "quantitative", "scale": {"domain": [0, 0.9], "nice": false}, "axis": {"orient": "left", "title": null, "values": [0, 0.1, 0.2, 0.3, 0.4, 0.5, 0.6, 0.7, 0.8, 0.9], "format": ".1f", "tickSize": -8, "labelPadding": 14}},
            "fill": {"field": "ch", "type": "nominal"},
            "order": {"field": "k", "type": "quantitative"}
          }
        },
        {
          "transform": [{"filter": "datum.model == 'N1'"}],
          "mark": {"type": "bar", "fill": {"gradient": "radial", "x1": -9, "y1": -9, "r1": 0, "x2": -9, "y2": -9, "r2": 14.1421, "stops": [
            {"offset": 0.9, "color": "rgba(0,0,0,0)"}, {"offset": 0.9003, "color": "rgba(0,0,0,0.9)"}, {"offset": 0.9006, "color": "rgba(0,0,0,0)"},
            {"offset": 0.90333, "color": "rgba(0,0,0,0)"}, {"offset": 0.90363, "color": "rgba(0,0,0,0.9)"}, {"offset": 0.90393, "color": "rgba(0,0,0,0)"},
            {"offset": 0.90667, "color": "rgba(0,0,0,0)"}, {"offset": 0.90697, "color": "rgba(0,0,0,0.9)"}, {"offset": 0.90727, "color": "rgba(0,0,0,0)"},
            {"offset": 0.91, "color": "rgba(0,0,0,0)"}, {"offset": 0.9103, "color": "rgba(0,0,0,0.9)"}, {"offset": 0.9106, "color": "rgba(0,0,0,0)"},
            {"offset": 0.91333, "color": "rgba(0,0,0,0)"}, {"offset": 0.91363, "color": "rgba(0,0,0,0.9)"}, {"offset": 0.91393, "color": "rgba(0,0,0,0)"},
            {"offset": 0.91667, "color": "rgba(0,0,0,0)"}, {"offset": 0.91697, "color": "rgba(0,0,0,0.9)"}, {"offset": 0.91727, "color": "rgba(0,0,0,0)"},
            {"offset": 0.92, "color": "rgba(0,0,0,0)"}, {"offset": 0.9203, "color": "rgba(0,0,0,0.9)"}, {"offset": 0.9206, "color": "rgba(0,0,0,0)"},
            {"offset": 0.92333, "color": "rgba(0,0,0,0)"}, {"offset": 0.92363, "color": "rgba(0,0,0,0.9)"}, {"offset": 0.92393, "color": "rgba(0,0,0,0)"},
            {"offset": 0.92667, "color": "rgba(0,0,0,0)"}, {"offset": 0.92697, "color": "rgba(0,0,0,0.9)"}, {"offset": 0.92727, "color": "rgba(0,0,0,0)"},
            {"offset": 0.93, "color": "rgba(0,0,0,0)"}, {"offset": 0.9303, "color": "rgba(0,0,0,0.9)"}, {"offset": 0.9306, "color": "rgba(0,0,0,0)"},
            {"offset": 0.93333, "color": "rgba(0,0,0,0)"}, {"offset": 0.93363, "color": "rgba(0,0,0,0.9)"}, {"offset": 0.93393, "color": "rgba(0,0,0,0)"},
            {"offset": 0.93667, "color": "rgba(0,0,0,0)"}, {"offset": 0.93697, "color": "rgba(0,0,0,0.9)"}, {"offset": 0.93727, "color": "rgba(0,0,0,0)"},
            {"offset": 0.94, "color": "rgba(0,0,0,0)"}, {"offset": 0.9403, "color": "rgba(0,0,0,0.9)"}, {"offset": 0.9406, "color": "rgba(0,0,0,0)"},
            {"offset": 0.94333, "color": "rgba(0,0,0,0)"}, {"offset": 0.94363, "color": "rgba(0,0,0,0.9)"}, {"offset": 0.94393, "color": "rgba(0,0,0,0)"},
            {"offset": 0.94667, "color": "rgba(0,0,0,0)"}, {"offset": 0.94697, "color": "rgba(0,0,0,0.9)"}, {"offset": 0.94727, "color": "rgba(0,0,0,0)"},
            {"offset": 0.95, "color": "rgba(0,0,0,0)"}, {"offset": 0.9503, "color": "rgba(0,0,0,0.9)"}, {"offset": 0.9506, "color": "rgba(0,0,0,0)"},
            {"offset": 0.95333, "color": "rgba(0,0,0,0)"}, {"offset": 0.95363, "color": "rgba(0,0,0,0.9)"}, {"offset": 0.95393, "color": "rgba(0,0,0,0)"},
            {"offset": 0.95667, "color": "rgba(0,0,0,0)"}, {"offset": 0.95697, "color": "rgba(0,0,0,0.9)"}, {"offset": 0.95727, "color": "rgba(0,0,0,0)"},
            {"offset": 0.96, "color": "rgba(0,0,0,0)"}, {"offset": 0.9603, "color": "rgba(0,0,0,0.9)"}, {"offset": 0.9606, "color": "rgba(0,0,0,0)"},
            {"offset": 0.96333, "color": "rgba(0,0,0,0)"}, {"offset": 0.96363, "color": "rgba(0,0,0,0.9)"}, {"offset": 0.96393, "color": "rgba(0,0,0,0)"},
            {"offset": 0.96667, "color": "rgba(0,0,0,0)"}, {"offset": 0.96697, "color": "rgba(0,0,0,0.9)"}, {"offset": 0.96727, "color": "rgba(0,0,0,0)"},
            {"offset": 0.97, "color": "rgba(0,0,0,0)"}, {"offset": 0.9703, "color": "rgba(0,0,0,0.9)"}, {"offset": 0.9706, "color": "rgba(0,0,0,0)"},
            {"offset": 0.97333, "color": "rgba(0,0,0,0)"}, {"offset": 0.97363, "color": "rgba(0,0,0,0.9)"}, {"offset": 0.97393, "color": "rgba(0,0,0,0)"},
            {"offset": 0.97667, "color": "rgba(0,0,0,0)"}, {"offset": 0.97697, "color": "rgba(0,0,0,0.9)"}, {"offset": 0.97727, "color": "rgba(0,0,0,0)"},
            {"offset": 0.98, "color": "rgba(0,0,0,0)"}, {"offset": 0.9803, "color": "rgba(0,0,0,0.9)"}, {"offset": 0.9806, "color": "rgba(0,0,0,0)"},
            {"offset": 0.98333, "color": "rgba(0,0,0,0)"}, {"offset": 0.98363, "color": "rgba(0,0,0,0.9)"}, {"offset": 0.98393, "color": "rgba(0,0,0,0)"},
            {"offset": 0.98667, "color": "rgba(0,0,0,0)"}, {"offset": 0.98697, "color": "rgba(0,0,0,0.9)"}, {"offset": 0.98727, "color": "rgba(0,0,0,0)"},
            {"offset": 0.99, "color": "rgba(0,0,0,0)"}, {"offset": 0.9903, "color": "rgba(0,0,0,0.9)"}, {"offset": 0.9906, "color": "rgba(0,0,0,0)"},
            {"offset": 0.99333, "color": "rgba(0,0,0,0)"}, {"offset": 0.99363, "color": "rgba(0,0,0,0.9)"}, {"offset": 0.99393, "color": "rgba(0,0,0,0)"},
            {"offset": 0.99667, "color": "rgba(0,0,0,0)"}, {"offset": 0.99697, "color": "rgba(0,0,0,0.9)"}, {"offset": 0.99727, "color": "rgba(0,0,0,0)"}
          ]}},
          "encoding": {
            "x": {"field": "nuc", "type": "nominal", "sort": null, "axis": {"orient": "top", "title": null, "tickBand": "extent", "tickSize": -8, "labels": false}},
            "xOffset": {"field": "model"},
            "y": {"aggregate": "sum", "field": "value", "type": "quantitative", "axis": {"orient": "right", "title": null, "values": [0, 0.1, 0.2, 0.3, 0.4, 0.5, 0.6, 0.7, 0.8, 0.9], "tickSize": -8, "labels": false}}
          }
        },
        {
          "transform": [{"filter": "datum.model == 'N5'"}],
          "mark": {"type": "bar", "fill": {"gradient": "radial", "x1": -9, "y1": 10, "r1": 0, "x2": -9, "y2": 10, "r2": 14.1421, "stops": [
            {"offset": 0.9, "color": "rgba(0,0,0,0)"}, {"offset": 0.9003, "color": "rgba(0,0,0,0.9)"}, {"offset": 0.9006, "color": "rgba(0,0,0,0)"},
            {"offset": 0.90333, "color": "rgba(0,0,0,0)"}, {"offset": 0.90363, "color": "rgba(0,0,0,0.9)"}, {"offset": 0.90393, "color": "rgba(0,0,0,0)"},
            {"offset": 0.90667, "color": "rgba(0,0,0,0)"}, {"offset": 0.90697, "color": "rgba(0,0,0,0.9)"}, {"offset": 0.90727, "color": "rgba(0,0,0,0)"},
            {"offset": 0.91, "color": "rgba(0,0,0,0)"}, {"offset": 0.9103, "color": "rgba(0,0,0,0.9)"}, {"offset": 0.9106, "color": "rgba(0,0,0,0)"},
            {"offset": 0.91333, "color": "rgba(0,0,0,0)"}, {"offset": 0.91363, "color": "rgba(0,0,0,0.9)"}, {"offset": 0.91393, "color": "rgba(0,0,0,0)"},
            {"offset": 0.91667, "color": "rgba(0,0,0,0)"}, {"offset": 0.91697, "color": "rgba(0,0,0,0.9)"}, {"offset": 0.91727, "color": "rgba(0,0,0,0)"},
            {"offset": 0.92, "color": "rgba(0,0,0,0)"}, {"offset": 0.9203, "color": "rgba(0,0,0,0.9)"}, {"offset": 0.9206, "color": "rgba(0,0,0,0)"},
            {"offset": 0.92333, "color": "rgba(0,0,0,0)"}, {"offset": 0.92363, "color": "rgba(0,0,0,0.9)"}, {"offset": 0.92393, "color": "rgba(0,0,0,0)"},
            {"offset": 0.92667, "color": "rgba(0,0,0,0)"}, {"offset": 0.92697, "color": "rgba(0,0,0,0.9)"}, {"offset": 0.92727, "color": "rgba(0,0,0,0)"},
            {"offset": 0.93, "color": "rgba(0,0,0,0)"}, {"offset": 0.9303, "color": "rgba(0,0,0,0.9)"}, {"offset": 0.9306, "color": "rgba(0,0,0,0)"},
            {"offset": 0.93333, "color": "rgba(0,0,0,0)"}, {"offset": 0.93363, "color": "rgba(0,0,0,0.9)"}, {"offset": 0.93393, "color": "rgba(0,0,0,0)"},
            {"offset": 0.93667, "color": "rgba(0,0,0,0)"}, {"offset": 0.93697, "color": "rgba(0,0,0,0.9)"}, {"offset": 0.93727, "color": "rgba(0,0,0,0)"},
            {"offset": 0.94, "color": "rgba(0,0,0,0)"}, {"offset": 0.9403, "color": "rgba(0,0,0,0.9)"}, {"offset": 0.9406, "color": "rgba(0,0,0,0)"},
            {"offset": 0.94333, "color": "rgba(0,0,0,0)"}, {"offset": 0.94363, "color": "rgba(0,0,0,0.9)"}, {"offset": 0.94393, "color": "rgba(0,0,0,0)"},
            {"offset": 0.94667, "color": "rgba(0,0,0,0)"}, {"offset": 0.94697, "color": "rgba(0,0,0,0.9)"}, {"offset": 0.94727, "color": "rgba(0,0,0,0)"},
            {"offset": 0.95, "color": "rgba(0,0,0,0)"}, {"offset": 0.9503, "color": "rgba(0,0,0,0.9)"}, {"offset": 0.9506, "color": "rgba(0,0,0,0)"},
            {"offset": 0.95333, "color": "rgba(0,0,0,0)"}, {"offset": 0.95363, "color": "rgba(0,0,0,0.9)"}, {"offset": 0.95393, "color": "rgba(0,0,0,0)"},
            {"offset": 0.95667, "color": "rgba(0,0,0,0)"}, {"offset": 0.95697, "color": "rgba(0,0,0,0.9)"}, {"offset": 0.95727, "color": "rgba(0,0,0,0)"},
            {"offset": 0.96, "color": "rgba(0,0,0,0)"}, {"offset": 0.9603, "color": "rgba(0,0,0,0.9)"}, {"offset": 0.9606, "color": "rgba(0,0,0,0)"},
            {"offset": 0.96333, "color": "rgba(0,0,0,0)"}, {"offset": 0.96363, "color": "rgba(0,0,0,0.9)"}, {"offset": 0.96393, "color": "rgba(0,0,0,0)"},
            {"offset": 0.96667, "color": "rgba(0,0,0,0)"}, {"offset": 0.96697, "color": "rgba(0,0,0,0.9)"}, {"offset": 0.96727, "color": "rgba(0,0,0,0)"},
            {"offset": 0.97, "color": "rgba(0,0,0,0)"}, {"offset": 0.9703, "color": "rgba(0,0,0,0.9)"}, {"offset": 0.9706, "color": "rgba(0,0,0,0)"},
            {"offset": 0.97333, "color": "rgba(0,0,0,0)"}, {"offset": 0.97363, "color": "rgba(0,0,0,0.9)"}, {"offset": 0.97393, "color": "rgba(0,0,0,0)"},
            {"offset": 0.97667, "color": "rgba(0,0,0,0)"}, {"offset": 0.97697, "color": "rgba(0,0,0,0.9)"}, {"offset": 0.97727, "color": "rgba(0,0,0,0)"},
            {"offset": 0.98, "color": "rgba(0,0,0,0)"}, {"offset": 0.9803, "color": "rgba(0,0,0,0.9)"}, {"offset": 0.9806, "color": "rgba(0,0,0,0)"},
            {"offset": 0.98333, "color": "rgba(0,0,0,0)"}, {"offset": 0.98363, "color": "rgba(0,0,0,0.9)"}, {"offset": 0.98393, "color": "rgba(0,0,0,0)"},
            {"offset": 0.98667, "color": "rgba(0,0,0,0)"}, {"offset": 0.98697, "color": "rgba(0,0,0,0.9)"}, {"offset": 0.98727, "color": "rgba(0,0,0,0)"},
            {"offset": 0.99, "color": "rgba(0,0,0,0)"}, {"offset": 0.9903, "color": "rgba(0,0,0,0.9)"}, {"offset": 0.9906, "color": "rgba(0,0,0,0)"},
            {"offset": 0.99333, "color": "rgba(0,0,0,0)"}, {"offset": 0.99363, "color": "rgba(0,0,0,0.9)"}, {"offset": 0.99393, "color": "rgba(0,0,0,0)"},
            {"offset": 0.99667, "color": "rgba(0,0,0,0)"}, {"offset": 0.99697, "color": "rgba(0,0,0,0.9)"}, {"offset": 0.99727, "color": "rgba(0,0,0,0)"}
          ]}},
          "encoding": {
            "x": {"field": "nuc", "type": "nominal", "sort": null, "axis": null},
            "xOffset": {"field": "model"},
            "y": {"aggregate": "sum", "field": "value", "type": "quantitative", "axis": {"orient": "left", "title": null, "values": [0.02, 0.04, 0.06, 0.08, 0.12, 0.14, 0.16, 0.18, 0.22, 0.24, 0.26, 0.28, 0.32, 0.34, 0.36, 0.38, 0.42, 0.44, 0.46, 0.48, 0.52, 0.54, 0.56, 0.58, 0.62, 0.64, 0.66, 0.68, 0.72, 0.74, 0.76, 0.78, 0.82, 0.84, 0.86, 0.88], "tickSize": -4, "labels": false}}
          }
        },
        {
          "mark": {"type": "bar", "opacity": 0},
          "encoding": {
            "x": {"field": "nuc", "type": "nominal", "sort": null, "axis": null},
            "xOffset": {"field": "model"},
            "y": {"aggregate": "sum", "field": "value", "type": "quantitative", "axis": {"orient": "right", "title": null, "values": [0.02, 0.04, 0.06, 0.08, 0.12, 0.14, 0.16, 0.18, 0.22, 0.24, 0.26, 0.28, 0.32, 0.34, 0.36, 0.38, 0.42, 0.44, 0.46, 0.48, 0.52, 0.54, 0.56, 0.58, 0.62, 0.64, 0.66, 0.68, 0.72, 0.74, 0.76, 0.78, 0.82, 0.84, 0.86, 0.88], "tickSize": -4, "labels": false}}
          }
        }
      ],
      "resolve": {"axis": {"x": "independent", "y": "independent"}}
    },
    {
      "width": 93,
      "height": 325,
      "transform": [{"window": [{"op": "row_number", "as": "k"}]}, {"filter": "datum.p == 4"}],
      "layer": [
        {
          "mark": {"type": "bar", "stroke": "#c8c8c8", "strokeWidth": 1},
          "encoding": {
            "x": {"field": "nuc", "type": "nominal", "sort": null, "scale": {"domain": ["Others", " "], "paddingInner": 0, "paddingOuter": 0}, "axis": {"orient": "bottom", "title": null, "tickBand": "extent", "tickSize": 7, "labelAngle": 0, "labelFontSize": 17, "labelPadding": 1}},
            "xOffset": {"field": "model", "scale": {"domain": ["G", "N1", "N5"], "paddingInner": 0.072, "paddingOuter": 0.2}},
            "y": {"field": "value", "type": "quantitative", "scale": {"domain": [0, 11], "nice": false}, "axis": {"orient": "left", "title": null, "values": [0, 2, 4, 6, 8, 10], "tickSize": -8, "labelPadding": 14}},
            "color": {
              "field": "ch", "type": "nominal",
              "scale": {"domain": ["0n", "1n", "2n", "3n", "4n", "5n", "6n", ">6n"], "range": ["#ffff00", "#cccc33", "#999966", "#33ff00", "#66cc33", "#336600", "#003399", "#6699cc"]},
              "legend": {"orient": "none", "legendX": 817, "legendY": 42, "direction": "vertical", "fillColor": "#e5e5e5", "padding": 3, "rowPadding": 3.5, "symbolType": "M-0.8,-1H0.8V1H-0.8Z", "symbolSize": 225, "symbolStrokeWidth": 0, "symbolOpacity": 1, "labelFontSize": 16, "labelOffset": 1, "title": null}
            },
            "order": {"field": "k", "type": "quantitative"}
          }
        },
        {
          "transform": [{"filter": "datum.model == 'N1'"}],
          "mark": {"type": "bar", "fill": {"gradient": "radial", "x1": -9, "y1": -9, "r1": 0, "x2": -9, "y2": -9, "r2": 14.1421, "stops": [
            {"offset": 0.9, "color": "rgba(0,0,0,0)"}, {"offset": 0.9003, "color": "rgba(0,0,0,0.9)"}, {"offset": 0.9006, "color": "rgba(0,0,0,0)"},
            {"offset": 0.90333, "color": "rgba(0,0,0,0)"}, {"offset": 0.90363, "color": "rgba(0,0,0,0.9)"}, {"offset": 0.90393, "color": "rgba(0,0,0,0)"},
            {"offset": 0.90667, "color": "rgba(0,0,0,0)"}, {"offset": 0.90697, "color": "rgba(0,0,0,0.9)"}, {"offset": 0.90727, "color": "rgba(0,0,0,0)"},
            {"offset": 0.91, "color": "rgba(0,0,0,0)"}, {"offset": 0.9103, "color": "rgba(0,0,0,0.9)"}, {"offset": 0.9106, "color": "rgba(0,0,0,0)"},
            {"offset": 0.91333, "color": "rgba(0,0,0,0)"}, {"offset": 0.91363, "color": "rgba(0,0,0,0.9)"}, {"offset": 0.91393, "color": "rgba(0,0,0,0)"},
            {"offset": 0.91667, "color": "rgba(0,0,0,0)"}, {"offset": 0.91697, "color": "rgba(0,0,0,0.9)"}, {"offset": 0.91727, "color": "rgba(0,0,0,0)"},
            {"offset": 0.92, "color": "rgba(0,0,0,0)"}, {"offset": 0.9203, "color": "rgba(0,0,0,0.9)"}, {"offset": 0.9206, "color": "rgba(0,0,0,0)"},
            {"offset": 0.92333, "color": "rgba(0,0,0,0)"}, {"offset": 0.92363, "color": "rgba(0,0,0,0.9)"}, {"offset": 0.92393, "color": "rgba(0,0,0,0)"},
            {"offset": 0.92667, "color": "rgba(0,0,0,0)"}, {"offset": 0.92697, "color": "rgba(0,0,0,0.9)"}, {"offset": 0.92727, "color": "rgba(0,0,0,0)"},
            {"offset": 0.93, "color": "rgba(0,0,0,0)"}, {"offset": 0.9303, "color": "rgba(0,0,0,0.9)"}, {"offset": 0.9306, "color": "rgba(0,0,0,0)"},
            {"offset": 0.93333, "color": "rgba(0,0,0,0)"}, {"offset": 0.93363, "color": "rgba(0,0,0,0.9)"}, {"offset": 0.93393, "color": "rgba(0,0,0,0)"},
            {"offset": 0.93667, "color": "rgba(0,0,0,0)"}, {"offset": 0.93697, "color": "rgba(0,0,0,0.9)"}, {"offset": 0.93727, "color": "rgba(0,0,0,0)"},
            {"offset": 0.94, "color": "rgba(0,0,0,0)"}, {"offset": 0.9403, "color": "rgba(0,0,0,0.9)"}, {"offset": 0.9406, "color": "rgba(0,0,0,0)"},
            {"offset": 0.94333, "color": "rgba(0,0,0,0)"}, {"offset": 0.94363, "color": "rgba(0,0,0,0.9)"}, {"offset": 0.94393, "color": "rgba(0,0,0,0)"},
            {"offset": 0.94667, "color": "rgba(0,0,0,0)"}, {"offset": 0.94697, "color": "rgba(0,0,0,0.9)"}, {"offset": 0.94727, "color": "rgba(0,0,0,0)"},
            {"offset": 0.95, "color": "rgba(0,0,0,0)"}, {"offset": 0.9503, "color": "rgba(0,0,0,0.9)"}, {"offset": 0.9506, "color": "rgba(0,0,0,0)"},
            {"offset": 0.95333, "color": "rgba(0,0,0,0)"}, {"offset": 0.95363, "color": "rgba(0,0,0,0.9)"}, {"offset": 0.95393, "color": "rgba(0,0,0,0)"},
            {"offset": 0.95667, "color": "rgba(0,0,0,0)"}, {"offset": 0.95697, "color": "rgba(0,0,0,0.9)"}, {"offset": 0.95727, "color": "rgba(0,0,0,0)"},
            {"offset": 0.96, "color": "rgba(0,0,0,0)"}, {"offset": 0.9603, "color": "rgba(0,0,0,0.9)"}, {"offset": 0.9606, "color": "rgba(0,0,0,0)"},
            {"offset": 0.96333, "color": "rgba(0,0,0,0)"}, {"offset": 0.96363, "color": "rgba(0,0,0,0.9)"}, {"offset": 0.96393, "color": "rgba(0,0,0,0)"},
            {"offset": 0.96667, "color": "rgba(0,0,0,0)"}, {"offset": 0.96697, "color": "rgba(0,0,0,0.9)"}, {"offset": 0.96727, "color": "rgba(0,0,0,0)"},
            {"offset": 0.97, "color": "rgba(0,0,0,0)"}, {"offset": 0.9703, "color": "rgba(0,0,0,0.9)"}, {"offset": 0.9706, "color": "rgba(0,0,0,0)"},
            {"offset": 0.97333, "color": "rgba(0,0,0,0)"}, {"offset": 0.97363, "color": "rgba(0,0,0,0.9)"}, {"offset": 0.97393, "color": "rgba(0,0,0,0)"},
            {"offset": 0.97667, "color": "rgba(0,0,0,0)"}, {"offset": 0.97697, "color": "rgba(0,0,0,0.9)"}, {"offset": 0.97727, "color": "rgba(0,0,0,0)"},
            {"offset": 0.98, "color": "rgba(0,0,0,0)"}, {"offset": 0.9803, "color": "rgba(0,0,0,0.9)"}, {"offset": 0.9806, "color": "rgba(0,0,0,0)"},
            {"offset": 0.98333, "color": "rgba(0,0,0,0)"}, {"offset": 0.98363, "color": "rgba(0,0,0,0.9)"}, {"offset": 0.98393, "color": "rgba(0,0,0,0)"},
            {"offset": 0.98667, "color": "rgba(0,0,0,0)"}, {"offset": 0.98697, "color": "rgba(0,0,0,0.9)"}, {"offset": 0.98727, "color": "rgba(0,0,0,0)"},
            {"offset": 0.99, "color": "rgba(0,0,0,0)"}, {"offset": 0.9903, "color": "rgba(0,0,0,0.9)"}, {"offset": 0.9906, "color": "rgba(0,0,0,0)"},
            {"offset": 0.99333, "color": "rgba(0,0,0,0)"}, {"offset": 0.99363, "color": "rgba(0,0,0,0.9)"}, {"offset": 0.99393, "color": "rgba(0,0,0,0)"},
            {"offset": 0.99667, "color": "rgba(0,0,0,0)"}, {"offset": 0.99697, "color": "rgba(0,0,0,0.9)"}, {"offset": 0.99727, "color": "rgba(0,0,0,0)"}
          ]}},
          "encoding": {
            "x": {"field": "nuc", "type": "nominal", "sort": null, "axis": {"orient": "top", "title": null, "tickBand": "extent", "tickSize": -8, "labels": false}},
            "xOffset": {"field": "model"},
            "y": {"aggregate": "sum", "field": "value", "type": "quantitative", "axis": {"orient": "right", "title": null, "values": [0, 2, 4, 6, 8, 10], "tickSize": -8, "labels": false}}
          }
        },
        {
          "transform": [{"filter": "datum.model == 'N5'"}],
          "mark": {"type": "bar", "fill": {"gradient": "radial", "x1": -9, "y1": 10, "r1": 0, "x2": -9, "y2": 10, "r2": 14.1421, "stops": [
            {"offset": 0.9, "color": "rgba(0,0,0,0)"}, {"offset": 0.9003, "color": "rgba(0,0,0,0.9)"}, {"offset": 0.9006, "color": "rgba(0,0,0,0)"},
            {"offset": 0.90333, "color": "rgba(0,0,0,0)"}, {"offset": 0.90363, "color": "rgba(0,0,0,0.9)"}, {"offset": 0.90393, "color": "rgba(0,0,0,0)"},
            {"offset": 0.90667, "color": "rgba(0,0,0,0)"}, {"offset": 0.90697, "color": "rgba(0,0,0,0.9)"}, {"offset": 0.90727, "color": "rgba(0,0,0,0)"},
            {"offset": 0.91, "color": "rgba(0,0,0,0)"}, {"offset": 0.9103, "color": "rgba(0,0,0,0.9)"}, {"offset": 0.9106, "color": "rgba(0,0,0,0)"},
            {"offset": 0.91333, "color": "rgba(0,0,0,0)"}, {"offset": 0.91363, "color": "rgba(0,0,0,0.9)"}, {"offset": 0.91393, "color": "rgba(0,0,0,0)"},
            {"offset": 0.91667, "color": "rgba(0,0,0,0)"}, {"offset": 0.91697, "color": "rgba(0,0,0,0.9)"}, {"offset": 0.91727, "color": "rgba(0,0,0,0)"},
            {"offset": 0.92, "color": "rgba(0,0,0,0)"}, {"offset": 0.9203, "color": "rgba(0,0,0,0.9)"}, {"offset": 0.9206, "color": "rgba(0,0,0,0)"},
            {"offset": 0.92333, "color": "rgba(0,0,0,0)"}, {"offset": 0.92363, "color": "rgba(0,0,0,0.9)"}, {"offset": 0.92393, "color": "rgba(0,0,0,0)"},
            {"offset": 0.92667, "color": "rgba(0,0,0,0)"}, {"offset": 0.92697, "color": "rgba(0,0,0,0.9)"}, {"offset": 0.92727, "color": "rgba(0,0,0,0)"},
            {"offset": 0.93, "color": "rgba(0,0,0,0)"}, {"offset": 0.9303, "color": "rgba(0,0,0,0.9)"}, {"offset": 0.9306, "color": "rgba(0,0,0,0)"},
            {"offset": 0.93333, "color": "rgba(0,0,0,0)"}, {"offset": 0.93363, "color": "rgba(0,0,0,0.9)"}, {"offset": 0.93393, "color": "rgba(0,0,0,0)"},
            {"offset": 0.93667, "color": "rgba(0,0,0,0)"}, {"offset": 0.93697, "color": "rgba(0,0,0,0.9)"}, {"offset": 0.93727, "color": "rgba(0,0,0,0)"},
            {"offset": 0.94, "color": "rgba(0,0,0,0)"}, {"offset": 0.9403, "color": "rgba(0,0,0,0.9)"}, {"offset": 0.9406, "color": "rgba(0,0,0,0)"},
            {"offset": 0.94333, "color": "rgba(0,0,0,0)"}, {"offset": 0.94363, "color": "rgba(0,0,0,0.9)"}, {"offset": 0.94393, "color": "rgba(0,0,0,0)"},
            {"offset": 0.94667, "color": "rgba(0,0,0,0)"}, {"offset": 0.94697, "color": "rgba(0,0,0,0.9)"}, {"offset": 0.94727, "color": "rgba(0,0,0,0)"},
            {"offset": 0.95, "color": "rgba(0,0,0,0)"}, {"offset": 0.9503, "color": "rgba(0,0,0,0.9)"}, {"offset": 0.9506, "color": "rgba(0,0,0,0)"},
            {"offset": 0.95333, "color": "rgba(0,0,0,0)"}, {"offset": 0.95363, "color": "rgba(0,0,0,0.9)"}, {"offset": 0.95393, "color": "rgba(0,0,0,0)"},
            {"offset": 0.95667, "color": "rgba(0,0,0,0)"}, {"offset": 0.95697, "color": "rgba(0,0,0,0.9)"}, {"offset": 0.95727, "color": "rgba(0,0,0,0)"},
            {"offset": 0.96, "color": "rgba(0,0,0,0)"}, {"offset": 0.9603, "color": "rgba(0,0,0,0.9)"}, {"offset": 0.9606, "color": "rgba(0,0,0,0)"},
            {"offset": 0.96333, "color": "rgba(0,0,0,0)"}, {"offset": 0.96363, "color": "rgba(0,0,0,0.9)"}, {"offset": 0.96393, "color": "rgba(0,0,0,0)"},
            {"offset": 0.96667, "color": "rgba(0,0,0,0)"}, {"offset": 0.96697, "color": "rgba(0,0,0,0.9)"}, {"offset": 0.96727, "color": "rgba(0,0,0,0)"},
            {"offset": 0.97, "color": "rgba(0,0,0,0)"}, {"offset": 0.9703, "color": "rgba(0,0,0,0.9)"}, {"offset": 0.9706, "color": "rgba(0,0,0,0)"},
            {"offset": 0.97333, "color": "rgba(0,0,0,0)"}, {"offset": 0.97363, "color": "rgba(0,0,0,0.9)"}, {"offset": 0.97393, "color": "rgba(0,0,0,0)"},
            {"offset": 0.97667, "color": "rgba(0,0,0,0)"}, {"offset": 0.97697, "color": "rgba(0,0,0,0.9)"}, {"offset": 0.97727, "color": "rgba(0,0,0,0)"},
            {"offset": 0.98, "color": "rgba(0,0,0,0)"}, {"offset": 0.9803, "color": "rgba(0,0,0,0.9)"}, {"offset": 0.9806, "color": "rgba(0,0,0,0)"},
            {"offset": 0.98333, "color": "rgba(0,0,0,0)"}, {"offset": 0.98363, "color": "rgba(0,0,0,0.9)"}, {"offset": 0.98393, "color": "rgba(0,0,0,0)"},
            {"offset": 0.98667, "color": "rgba(0,0,0,0)"}, {"offset": 0.98697, "color": "rgba(0,0,0,0.9)"}, {"offset": 0.98727, "color": "rgba(0,0,0,0)"},
            {"offset": 0.99, "color": "rgba(0,0,0,0)"}, {"offset": 0.9903, "color": "rgba(0,0,0,0.9)"}, {"offset": 0.9906, "color": "rgba(0,0,0,0)"},
            {"offset": 0.99333, "color": "rgba(0,0,0,0)"}, {"offset": 0.99363, "color": "rgba(0,0,0,0.9)"}, {"offset": 0.99393, "color": "rgba(0,0,0,0)"},
            {"offset": 0.99667, "color": "rgba(0,0,0,0)"}, {"offset": 0.99697, "color": "rgba(0,0,0,0.9)"}, {"offset": 0.99727, "color": "rgba(0,0,0,0)"}
          ]}},
          "encoding": {
            "x": {"field": "nuc", "type": "nominal", "sort": null, "axis": null},
            "xOffset": {"field": "model"},
            "y": {"aggregate": "sum", "field": "value", "type": "quantitative", "axis": {"orient": "left", "title": null, "values": [1, 3, 5, 7, 9], "tickSize": -4, "labels": false}}
          }
        },
        {
          "mark": {"type": "bar", "opacity": 0},
          "encoding": {
            "x": {"field": "nuc", "type": "nominal", "sort": null, "axis": null},
            "xOffset": {"field": "model"},
            "y": {"aggregate": "sum", "field": "value", "type": "quantitative", "axis": {"orient": "right", "title": null, "values": [1, 3, 5, 7, 9], "tickSize": -4, "labels": false}}
          }
        }
      ],
      "resolve": {"axis": {"x": "independent", "y": "independent"}}
    }
  ],
  "config": {
    "font": "Liberation Serif",
    "view": {"stroke": "#000000", "strokeWidth": 2},
    "axis": {"labelFont": "Liberation Serif", "titleFont": "Liberation Serif", "labelColor": "#000000", "titleColor": "#000000", "tickColor": "#000000", "tickWidth": 1.3, "domain": false, "grid": false, "labelFontSize": 14, "titleFontSize": 18, "titleFontWeight": "normal"},
    "legend": {"labelFont": "Liberation Serif", "labelColor": "#000000"}
  }
}
